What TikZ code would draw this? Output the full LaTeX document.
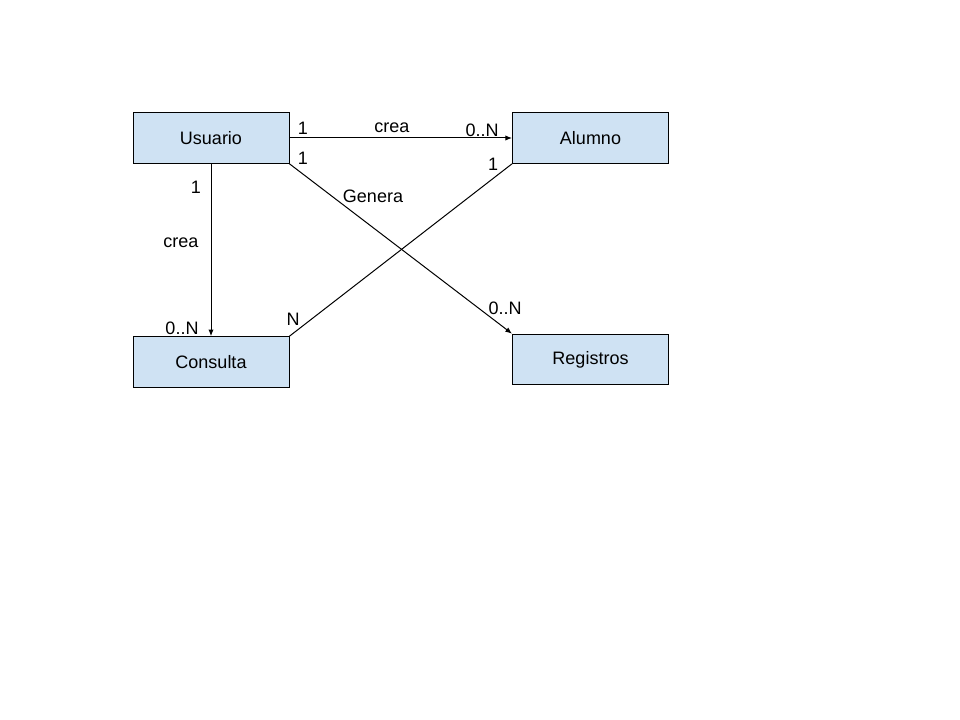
\documentclass[tikz,border=0pt]{standalone}
\usepackage{fontspec}
\setmainfont{Liberation Sans}
\usepackage{tikz}
\usetikzlibrary{arrows.meta}
\definecolor{cajas}{HTML}{CFE2F3}

\begin{document}
\begin{tikzpicture}[x=0.75pt,y=-0.75pt,>={Latex[length=5pt,width=4pt]},line width=0.75pt,
  font=\fontsize{13.5pt}{16pt}\selectfont,
  entidad/.style={rectangle,draw,fill=cajas,minimum width=117pt,minimum height=38pt,inner sep=0pt}]
\useasboundingbox (0,0) rectangle (960,720);
\node[entidad] (usuario) at (211,138) {Usuario};
\node[entidad] (alumno) at (590.5,138) {Alumno};
\node[entidad] (consulta) at (211,362) {Consulta};
\node[entidad] (registros) at (590.5,359.5) {Registros};
\draw[->] (usuario.east) -- (alumno.west);
\draw[->] (usuario.south) -- (consulta.north);
\draw[->] (usuario.south east) -- (registros.north west);
\draw (alumno.south west) -- (consulta.north east);
% cardinalidades y roles
\node (c1) at (303,128) {1};
\node (c2) at (392,128) {crea};
\node (c3) at (482,130) {0..N};
\node (c4) at (303,158) {1};
\node (c5) at (373,196) {Genera};
\node (c6) at (493,164) {1};
\node (c7) at (196,187) {1};
\node (c8) at (181,243) {crea};
\node (c9) at (182,328) {0..N};
\node (c10) at (293,319) {N};
\node (c11) at (505,308) {0..N};
\end{tikzpicture}
\end{document}
